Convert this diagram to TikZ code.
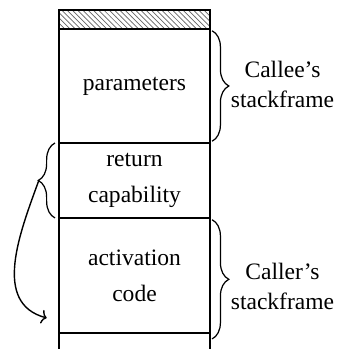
\documentclass[tikz,border=0pt]{standalone}
\usepackage{fontspec}
\setmainfont{Liberation Serif}
\usetikzlibrary{positioning,patterns,arrows.meta,decorations.pathreplacing}
\tikzset{every node/.style={font=\fontsize{13.4}{20.5}\selectfont}}
\tikzset{cell/.style={draw,line width=0.8pt,minimum width=3.02cm,inner sep=0pt,outer sep=0pt,align=center}}
\tikzset{brace/.style={decorate,decoration={brace,amplitude=9.5pt},line width=0.7pt}}
\tikzset{side/.style={align=center,font=\fontsize{13.4}{17}\selectfont}}

\begin{document}
\begin{tikzpicture}[x=0.02cm,y=-0.02cm]
\useasboundingbox (0,0) rectangle (339,349);

\node[cell,minimum height=0.38cm,pattern=north west lines,pattern color=black!60,anchor=north] (hatch) at (134.5,10) {};
\node[cell,minimum height=2.28cm,below=0pt of hatch] (params) {parameters};
\node[cell,minimum height=1.5cm,below=0pt of params] (ret) {return\\capability};
\node[cell,minimum height=2.3cm,below=0pt of ret] (act) {activation\\code};

% open bottom of the stack
\coordinate (bl) at ([yshift=-0.4cm]act.south west);
\coordinate (br) at ([yshift=-0.4cm]act.south east);
\draw[line width=0.8pt] (act.south west) -- (bl);
\draw[line width=0.8pt] (act.south east) -- (br);

\draw[brace] ([xshift=1.2pt,yshift=-1pt]params.north east) -- ([xshift=1.2pt,yshift=1pt]params.south east)
  node[midway,right=7pt,side,yshift=1pt] (callee) {Callee's\\stackframe};
\draw[brace] ([xshift=1.2pt,yshift=-1pt]act.north east) -- ([xshift=1.2pt,yshift=-0.12cm]act.south east)
  node[midway,right=7pt,side,yshift=-4pt] (caller) {Caller's\\stackframe};
\draw[brace] ([xshift=-2.3pt]ret.south west) -- ([xshift=-2.3pt]ret.north west);

\coordinate (rettip) at ([xshift=-11.5pt]ret.west);
\coordinate (entry) at ([xshift=-7pt,yshift=-0.85cm]act.west);
\draw[line width=0.8pt,-{To[length=3pt,width=8pt]}] (rettip) to[out=-110,in=165,looseness=1.05] (entry);

\end{tikzpicture}
\end{document}
